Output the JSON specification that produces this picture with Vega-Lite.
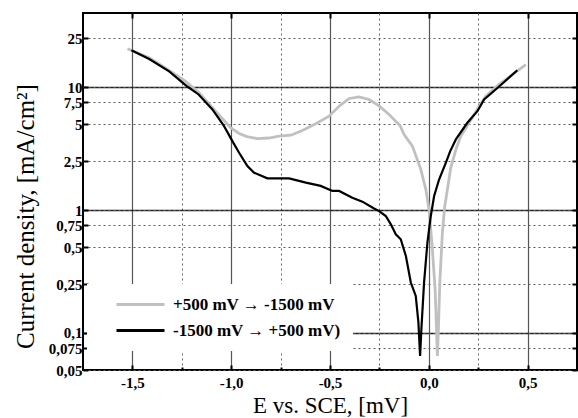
{
  "$schema": "https://vega.github.io/schema/vega-lite/v6.json",
  "width": 494,
  "height": 357,
  "autosize": "none",
  "padding": {"left": 83, "top": 13, "right": 1, "bottom": 48},
  "config": {
    "font": "Liberation Serif",
    "view": {"stroke": "black", "strokeWidth": 2},
    "axis": {"labelFont": "Liberation Serif", "titleFont": "Liberation Serif", "labelColor": "black", "titleColor": "black", "tickColor": "black", "domain": false}
  },
  "datasets": {
    "curves": [
      {"E": -1.525, "J": 20.5, "series": "+500 mV → -1500 mV"},
      {"E": -1.415, "J": 17.3, "series": "+500 mV → -1500 mV"},
      {"E": -1.306, "J": 13.4, "series": "+500 mV → -1500 mV"},
      {"E": -1.23, "J": 11.1, "series": "+500 mV → -1500 mV"},
      {"E": -1.163, "J": 8.97, "series": "+500 mV → -1500 mV"},
      {"E": -1.079, "J": 6.36, "series": "+500 mV → -1500 mV"},
      {"E": -1.003, "J": 4.67, "series": "+500 mV → -1500 mV"},
      {"E": -0.96, "J": 4.19, "series": "+500 mV → -1500 mV"},
      {"E": -0.92, "J": 3.95, "series": "+500 mV → -1500 mV"},
      {"E": -0.867, "J": 3.8, "series": "+500 mV → -1500 mV"},
      {"E": -0.81, "J": 3.85, "series": "+500 mV → -1500 mV"},
      {"E": -0.758, "J": 3.99, "series": "+500 mV → -1500 mV"},
      {"E": -0.698, "J": 4.06, "series": "+500 mV → -1500 mV"},
      {"E": -0.64, "J": 4.43, "series": "+500 mV → -1500 mV"},
      {"E": -0.572, "J": 5.03, "series": "+500 mV → -1500 mV"},
      {"E": -0.505, "J": 5.79, "series": "+500 mV → -1500 mV"},
      {"E": -0.454, "J": 6.98, "series": "+500 mV → -1500 mV"},
      {"E": -0.403, "J": 8.07, "series": "+500 mV → -1500 mV"},
      {"E": -0.353, "J": 8.32, "series": "+500 mV → -1500 mV"},
      {"E": -0.302, "J": 7.92, "series": "+500 mV → -1500 mV"},
      {"E": -0.25, "J": 7.0, "series": "+500 mV → -1500 mV"},
      {"E": -0.201, "J": 5.98, "series": "+500 mV → -1500 mV"},
      {"E": -0.145, "J": 4.85, "series": "+500 mV → -1500 mV"},
      {"E": -0.125, "J": 4.11, "series": "+500 mV → -1500 mV"},
      {"E": -0.083, "J": 3.31, "series": "+500 mV → -1500 mV"},
      {"E": -0.0405, "J": 2.14, "series": "+500 mV → -1500 mV"},
      {"E": -0.015, "J": 1.47, "series": "+500 mV → -1500 mV"},
      {"E": 0.0015, "J": 1.0, "series": "+500 mV → -1500 mV"},
      {"E": 0.018, "J": 0.48, "series": "+500 mV → -1500 mV"},
      {"E": 0.032, "J": 0.227, "series": "+500 mV → -1500 mV"},
      {"E": 0.0385, "J": 0.114, "series": "+500 mV → -1500 mV"},
      {"E": 0.0435, "J": 0.065, "series": "+500 mV → -1500 mV"},
      {"E": 0.0486, "J": 0.108, "series": "+500 mV → -1500 mV"},
      {"E": 0.0557, "J": 0.257, "series": "+500 mV → -1500 mV"},
      {"E": 0.0688, "J": 0.656, "series": "+500 mV → -1500 mV"},
      {"E": 0.08, "J": 1.05, "series": "+500 mV → -1500 mV"},
      {"E": 0.095, "J": 1.5, "series": "+500 mV → -1500 mV"},
      {"E": 0.111, "J": 2.2, "series": "+500 mV → -1500 mV"},
      {"E": 0.137, "J": 3.1, "series": "+500 mV → -1500 mV"},
      {"E": 0.162, "J": 3.99, "series": "+500 mV → -1500 mV"},
      {"E": 0.204, "J": 5.12, "series": "+500 mV → -1500 mV"},
      {"E": 0.2545, "J": 6.98, "series": "+500 mV → -1500 mV"},
      {"E": 0.288, "J": 8.42, "series": "+500 mV → -1500 mV"},
      {"E": 0.356, "J": 10.5, "series": "+500 mV → -1500 mV"},
      {"E": 0.423, "J": 12.6, "series": "+500 mV → -1500 mV"},
      {"E": 0.491, "J": 15.2, "series": "+500 mV → -1500 mV"},
      {"E": -1.505, "J": 19.9, "series": "-1500 mV → +500 mV)"},
      {"E": -1.415, "J": 16.9, "series": "-1500 mV → +500 mV)"},
      {"E": -1.314, "J": 13.4, "series": "-1500 mV → +500 mV)"},
      {"E": -1.222, "J": 10.1, "series": "-1500 mV → +500 mV)"},
      {"E": -1.165, "J": 8.7, "series": "-1500 mV → +500 mV)"},
      {"E": -1.095, "J": 6.57, "series": "-1500 mV → +500 mV)"},
      {"E": -1.036, "J": 4.81, "series": "-1500 mV → +500 mV)"},
      {"E": -0.994, "J": 3.63, "series": "-1500 mV → +500 mV)"},
      {"E": -0.96, "J": 2.92, "series": "-1500 mV → +500 mV)"},
      {"E": -0.918, "J": 2.28, "series": "-1500 mV → +500 mV)"},
      {"E": -0.884, "J": 2.01, "series": "-1500 mV → +500 mV)"},
      {"E": -0.817, "J": 1.81, "series": "-1500 mV → +500 mV)"},
      {"E": -0.707, "J": 1.81, "series": "-1500 mV → +500 mV)"},
      {"E": -0.622, "J": 1.67, "series": "-1500 mV → +500 mV)"},
      {"E": -0.547, "J": 1.57, "series": "-1500 mV → +500 mV)"},
      {"E": -0.488, "J": 1.43, "series": "-1500 mV → +500 mV)"},
      {"E": -0.454, "J": 1.43, "series": "-1500 mV → +500 mV)"},
      {"E": -0.387, "J": 1.26, "series": "-1500 mV → +500 mV)"},
      {"E": -0.336, "J": 1.17, "series": "-1500 mV → +500 mV)"},
      {"E": -0.277, "J": 1.03, "series": "-1500 mV → +500 mV)"},
      {"E": -0.2515, "J": 0.98, "series": "-1500 mV → +500 mV)"},
      {"E": -0.2176, "J": 0.894, "series": "-1500 mV → +500 mV)"},
      {"E": -0.192, "J": 0.765, "series": "-1500 mV → +500 mV)"},
      {"E": -0.167, "J": 0.635, "series": "-1500 mV → +500 mV)"},
      {"E": -0.142, "J": 0.578, "series": "-1500 mV → +500 mV)"},
      {"E": -0.116, "J": 0.423, "series": "-1500 mV → +500 mV)"},
      {"E": -0.091, "J": 0.257, "series": "-1500 mV → +500 mV)"},
      {"E": -0.066, "J": 0.2, "series": "-1500 mV → +500 mV)"},
      {"E": -0.0526, "J": 0.122, "series": "-1500 mV → +500 mV)"},
      {"E": -0.044, "J": 0.065, "series": "-1500 mV → +500 mV)"},
      {"E": -0.0375, "J": 0.108, "series": "-1500 mV → +500 mV)"},
      {"E": -0.024, "J": 0.257, "series": "-1500 mV → +500 mV)"},
      {"E": -0.007, "J": 0.544, "series": "-1500 mV → +500 mV)"},
      {"E": 0.01, "J": 0.894, "series": "-1500 mV → +500 mV)"},
      {"E": 0.027, "J": 1.3, "series": "-1500 mV → +500 mV)"},
      {"E": 0.052, "J": 1.77, "series": "-1500 mV → +500 mV)"},
      {"E": 0.086, "J": 2.42, "series": "-1500 mV → +500 mV)"},
      {"E": 0.108, "J": 3.0, "series": "-1500 mV → +500 mV)"},
      {"E": 0.137, "J": 3.75, "series": "-1500 mV → +500 mV)"},
      {"E": 0.195, "J": 5.12, "series": "-1500 mV → +500 mV)"},
      {"E": 0.246, "J": 6.36, "series": "-1500 mV → +500 mV)"},
      {"E": 0.28, "J": 7.92, "series": "-1500 mV → +500 mV)"},
      {"E": 0.356, "J": 10.1, "series": "-1500 mV → +500 mV)"},
      {"E": 0.448, "J": 13.7, "series": "-1500 mV → +500 mV)"}
    ]
  },
  "data": {"name": "curves"},
  "resolve": {"axis": {"x": "independent", "y": "independent"}},
  "layer": [
    {
      "mark": {"type": "line", "opacity": 0},
      "encoding": {
        "x": {
          "field": "E", "type": "quantitative",
          "scale": {"domain": [-1.75, 0.75], "nice": false, "zero": false},
          "axis": {
            "orient": "bottom", "title": null, "labels": false, "ticks": false,
            "values": [-1.5, -1, -0.5, 0, 0.5],
            "grid": true, "gridColor": "#555555", "gridWidth": 1.2
          }
        },
        "y": {
          "field": "J", "type": "quantitative",
          "scale": {"type": "log", "domain": [0.05, 40], "nice": false},
          "axis": {
            "orient": "left", "title": null, "labels": false, "ticks": false,
            "values": [0.1, 1, 10],
            "grid": true, "gridColor": "#222222", "gridWidth": 1.3
          }
        }
      }
    },
    {
      "mark": {"type": "line", "opacity": 0},
      "encoding": {
        "x": {
          "field": "E", "type": "quantitative",
          "axis": {
            "orient": "bottom", "title": null, "labels": false,
            "ticks": true, "tickSize": -3, "tickWidth": 2,
            "values": [-1.25, -0.75, -0.25, 0.25],
            "grid": true, "gridColor": "#666666", "gridWidth": 1, "gridDash": [2, 3]
          }
        },
        "y": {
          "field": "J", "type": "quantitative",
          "axis": {
            "orient": "left", "title": null, "labels": false, "ticks": false,
            "values": [0.1, 1, 10],
            "grid": false
          }
        }
      }
    },
    {
      "transform": [{"filter": "datum.series == '+500 mV → -1500 mV'"}],
      "mark": {"type": "line", "strokeWidth": 2.8, "clip": true},
      "encoding": {
        "x": {
          "field": "E", "type": "quantitative",
          "axis": {
            "orient": "bottom",
            "title": "E vs. SCE, [mV]",
            "titleFontSize": 23, "titleFontWeight": "normal", "titlePadding": 4,
            "values": [-1.5, -1, -0.5, 0, 0.5],
            "labelExpr": "replace(replace(format(datum.value, '.1f'), '.', ','), '\u2212', '-')",
            "labelFontSize": 15, "labelFontWeight": "bold", "labelPadding": 10,
            "tickSize": -5, "tickWidth": 2,
            "grid": false
          }
        },
        "y": {
          "field": "J", "type": "quantitative",
          "axis": {
            "orient": "left",
            "title": "Current density, [mA/cm²]",
            "titleFontSize": 25, "titleFontWeight": "normal", "titlePadding": 10,
            "titleY": 203,
            "values": [0.05, 0.075, 0.25, 0.5, 0.75, 2.5, 5, 7.5, 25, 0.1, 1, 10],
            "labelExpr": "replace(toString(datum.value), '.', ',')",
            "labelFontSize": 15, "labelFontWeight": "bold", "labelPadding": 6,
            "tickSize": -5, "tickWidth": 2,
            "grid": true, "gridColor": "#5a5a5a", "gridWidth": 1, "gridDash": [2, 3]
          }
        },
        "color": {
          "field": "series", "type": "nominal",
          "scale": {"domain": ["+500 mV → -1500 mV", "-1500 mV → +500 mV)"], "range": ["#c0c0c0", "#000000"]},
          "legend": {
            "title": null,
            "orient": "none",
            "legendX": 4,
            "legendY": 271,
            "fillColor": "white",
            "padding": 12,
            "symbolType": "M-4,0H4",
            "symbolSize": 144,
            "symbolStrokeWidth": 2.8,
            "symbolOffset": 33,
            "labelOffset": 24,
            "labelFont": "Liberation Serif",
            "labelFontSize": 17,
            "labelFontWeight": "bold",
            "labelColor": "black",
            "labelLimit": 400,
            "rowPadding": 8
          }
        }
      }
    },
    {
      "transform": [{"filter": "datum.series == '-1500 mV → +500 mV)'"}],
      "mark": {"type": "line", "strokeWidth": 2.2, "clip": true},
      "encoding": {
        "x": {
          "field": "E", "type": "quantitative",
          "axis": {
            "orient": "top", "title": null, "labels": false, "grid": false,
            "values": [-1.5, -1, -0.5, 0, 0.5],
            "tickSize": -5, "tickWidth": 2
          }
        },
        "y": {
          "field": "J", "type": "quantitative",
          "axis": {
            "orient": "right", "title": null, "labels": false, "grid": false,
            "values": [0.05, 0.075, 0.1, 0.25, 0.5, 0.75, 1, 2.5, 5, 7.5, 10, 25],
            "tickSize": -5, "tickWidth": 2
          }
        },
        "color": {"field": "series", "type": "nominal"}
      }
    }
  ]
}
